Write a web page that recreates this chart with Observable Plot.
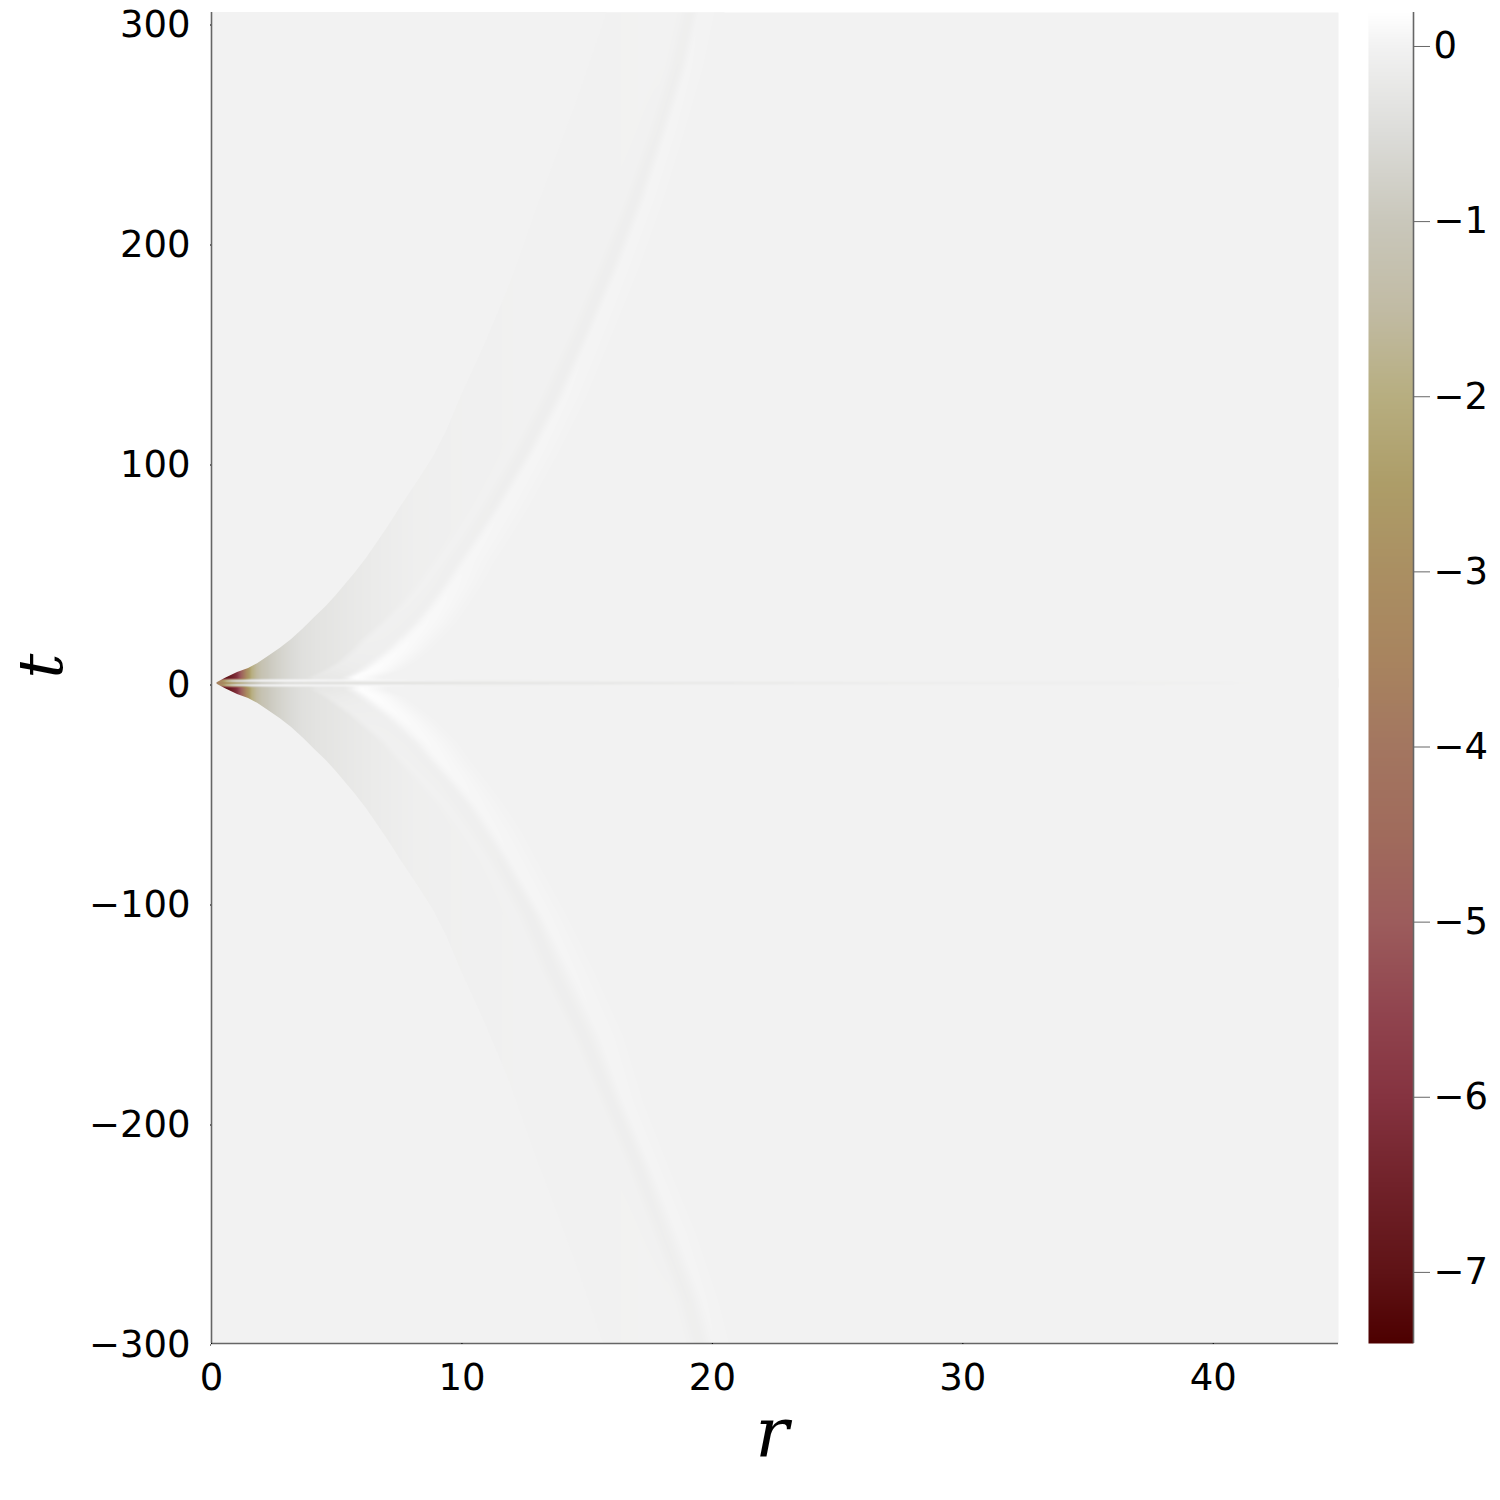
<!DOCTYPE html>
<html>
<head>
<meta charset="utf-8">
<script src="https://cdn.jsdelivr.net/npm/d3@7"></script>
<script src="https://cdn.jsdelivr.net/npm/@observablehq/plot@0.6"></script>
<style>
html,body{margin:0;padding:0;background:#fff;width:1500px;height:1500px;overflow:hidden}
#main,#bar{position:absolute;top:0}
#main{left:0}
#bar{left:1368px}
svg{display:block;background:transparent}
</style>
</head>
<body>
<div id="main"></div>
<div id="bar"></div>
<script>
// Tick labels
const rTicks = [0, 10, 20, 30, 40];
const tTicks = [-300, -200, -100, 0, 100, 200, 300];
const barTicks = [-7, -6, -5, -4, -3, -2, -1, 0];

// Colour map
const colorValues = [-7.406, -7, -6.5, -6, -5.5, -5, -4.5, -4, -3.5, -3, -2.5, -2, -1.5, -1, -0.5, 0, 0.194];
const colorHexes = ["#4d0000", "#5f1316", "#71222a", "#853340", "#91454f", "#9c5c5c", "#a06b5c", "#a37660", "#a8845f", "#aa8f62", "#ad9d68", "#b7ae80", "#c1bba4", "#c9c7bb", "#dcdcd9", "#f2f2f2", "#ffffff"];

// Cone edge: left of it the field is the background value
const edgeT = [0, 0.6, 2.4, 5, 6.8, 9, 12, 16, 20, 25, 30, 35, 40, 45, 50, 57, 65, 72, 80, 90, 103, 115, 130, 155, 182, 220, 265, 305];
const edgeR = [0.2, 0.26, 0.56, 1.04, 1.48, 1.84, 2.24, 2.75, 3.2, 3.68, 4.12, 4.58, 4.98, 5.35, 5.72, 6.2, 6.68, 7.1, 7.54, 8.13, 8.86, 9.4, 9.95, 10.95, 11.94, 13.13, 14.6, 15.8];

// Field inside the cone, mostly a function of r
const baseR = [0.2, 0.4, 0.6, 0.8, 1, 1.2, 1.4, 1.6, 1.8, 2, 2.4, 2.8, 3.2, 3.6, 4.2, 4.9, 5.6, 6.5, 8, 10, 12, 14, 16, 18, 20];
const baseV = [-7.4, -7.2, -7, -6.6, -6.1, -4.8, -3.2, -2, -1.55, -1.2, -0.88, -0.68, -0.53, -0.42, -0.34, -0.28, -0.22, -0.16, -0.08, -0.05, -0.03, -0.02, -0.012, -0.008, -0.005];

// Streak along t = 0 and the two pale slits on either side of it
const streakR = [0.2, 0.5, 1, 1.5, 2, 3, 4, 6, 8, 10, 15, 20, 25, 30, 35, 40, 41, 45];
const streakV = [-3.6, -3.4, -2.5, -1.6, -1, -0.55, -0.48, -0.4, -0.35, -0.3, -0.24, -0.19, -0.14, -0.1, -0.07, -0.045, -0.012, 0];
const slitR = [0.2, 0.4, 0.6, 0.8, 1, 2, 3, 4, 5, 6, 8, 10, 15, 20, 45];
const slitV = [-3.6, -3, -1.2, -0.3, 0.04, 0.15, 0.15, 0.11, 0.06, 0.09, 0.02, -0.02, -0.01, 0, 0];
const streakT = 0.15;
const slitUpperT = 1.4;
const slitLowerT = -0.9;
const fieldUpperT = 2.3;
const fieldLowerT = -1.8;

// Ridge system at each |t|
const rowT = [3, 6, 10, 15, 20, 27, 35, 45, 55, 67, 80, 105, 130, 160, 190, 220, 250, 280, 310];
const innerUpper = [4.2, 4.8, 5.4, 5.9, 6.3, 7.0, 7.7, 8.45, 9.1, 9.85, 10.6, 11.9, 13.0, 14.2, 15.3, 16.4, 17.3, 18.1, 18.7];
const troughUpper = [5.1, 5.6, 6.1, 6.7, 7.2, 7.85, 8.45, 9.1, 9.65, 10.4, 11.15, 12.45, 13.6, 14.8, 15.9, 16.9, 17.8, 18.6, 19.2];
const ridgeUpper = [5.8, 6.4, 6.9, 7.45, 7.9, 8.5, 9.05, 9.65, 10.2, 10.9, 11.65, 12.95, 14.1, 15.25, 16.35, 17.35, 18.2, 19.0, 19.6];
const outerUpper = [7.0, 7.8, 8.4, 8.95, 9.4, 10.0, 10.5, 11.1, 11.6, 12.3, 13.0, 14.2, 15.3, 16.4, 17.5, 18.4, 19.2, 20.0, 20.6];
const innerLower = [4.3, 4.8, 5.3, 5.9, 6.4, 7.1, 7.7, 8.5, 9.3, 10.1, 10.9, 12.1, 13.0, 14.3, 15.4, 16.5, 17.5, 18.5, 19.2];
const troughLower = [5.2, 5.6, 6.1, 6.7, 7.2, 7.9, 8.5, 9.3, 10.0, 10.7, 11.45, 12.7, 13.6, 14.85, 15.95, 17.05, 18.0, 19.0, 19.7];
const ridgeLower = [6.0, 6.45, 6.9, 7.5, 8.0, 8.6, 9.15, 9.9, 10.6, 11.3, 12.0, 13.25, 14.35, 15.6, 16.5, 17.6, 18.65, 19.6, 20.35];
const outerLower = [7.2, 7.9, 8.4, 9.0, 9.5, 10.1, 10.6, 11.3, 12.0, 12.7, 13.3, 14.5, 15.6, 16.8, 17.6, 18.6, 19.7, 20.6, 21.3];
const innerV = [-0.24, -0.16, -0.1, -0.07, -0.05, -0.04, -0.03, -0.025, -0.02, -0.02, -0.02, -0.02, -0.015, -0.015, -0.015, -0.015, -0.015, -0.01, -0.01];
const troughV = [-0.2, -0.13, -0.09, -0.07, -0.06, -0.06, -0.06, -0.06, -0.07, -0.07, -0.08, -0.09, -0.09, -0.09, -0.09, -0.09, -0.08, -0.08, -0.07];
const ridgeV = [0.16, 0.16, 0.14, 0.125, 0.11, 0.1, 0.09, 0.075, 0.06, 0.055, 0.05, 0.045, 0.04, 0.035, 0.03, 0.03, 0.03, 0.025, 0.02];

// Reads the field between the samples above, row by row
function lookup(xs, ys, x) {
  if (x <= xs[0]) return ys[0];
  const n = xs.length - 1;
  if (x >= xs[n]) return ys[n];
  const i = d3.bisectRight(xs, x);
  const f = (x - xs[i - 1]) / (xs[i] - xs[i - 1]);
  return ys[i - 1] + f * (ys[i] - ys[i - 1]);
}
const ease = (a, b, f) => a + (b - a) * f * f * (3 - 2 * f);
let rowKey = null, rowKnots = null;
function knotsAt(t) {
  if (t === rowKey) return rowKnots;
  const up = t >= 0, at = Math.abs(t);
  const inner = lookup(rowT, up ? innerUpper : innerLower, at);
  const trough = lookup(rowT, up ? troughUpper : troughLower, at);
  const ridge = lookup(rowT, up ? ridgeUpper : ridgeLower, at);
  const outer = lookup(rowT, up ? outerUpper : outerLower, at);
  rowKey = t;
  rowKnots = {inner, trough, ridge, outer, iv: lookup(rowT, innerV, at), tv: lookup(rowT, troughV, at), rv: lookup(rowT, ridgeV, at)};
  return rowKnots;
}
function across(r, t) {
  const k = knotsAt(t);
  const start = k.inner - 0.5;
  if (r < start) return lookup(baseR, baseV, r);
  if (r < k.inner) return ease(lookup(baseR, baseV, start), k.iv, (r - start) / 0.5);
  if (r < k.trough) return ease(k.iv, k.tv, (r - k.inner) / (k.trough - k.inner));
  if (r < k.ridge) return ease(k.tv, k.rv, (r - k.trough) / (k.ridge - k.trough));
  if (r < k.outer) return ease(k.rv, 0, (r - k.ridge) / (k.outer - k.ridge));
  return NaN; // background: the frame's own fill shows through
}
function field(r, t) {
  if (t >= fieldUpperT || t <= fieldLowerT) return across(r, t);
  const above = v => Number.isNaN(v) ? 0 : v;
  if (t >= slitUpperT) return lookup([slitUpperT, fieldUpperT], [lookup(slitR, slitV, r), above(across(r, fieldUpperT))], t);
  if (t <= slitLowerT) return lookup([fieldLowerT, slitLowerT], [above(across(r, fieldLowerT)), lookup(slitR, slitV, r)], t);
  return lookup([slitLowerT, streakT, slitUpperT], [lookup(slitR, slitV, r), lookup(streakR, streakV, r), lookup(slitR, slitV, r)], t);
}

const edgeRows = edgeT.map((t, i) => ({t, r: edgeR[i]}));
const minusFormat = d => d < 0 ? "\u2212" + (-d) : String(d);
const colorScale = {type: "linear", domain: colorValues, range: colorHexes, clamp: true};
const axisColor = "#666666";
const font = "DejaVu Sans";
const background = "#f2f2f2";

const main = Plot.plot({
  width: 1500,
  height: 1500,
  marginLeft: 211,
  marginRight: 162,
  marginTop: 12,
  marginBottom: 157,
  style: {background: "transparent"},
  x: {domain: [0, 45], axis: null},
  y: {domain: [-300, 305], axis: null},
  color: colorScale,
  marks: [
    Plot.frame({fill: background, stroke: null}),
    Plot.raster({fill: field, pixelSize: 1, x1: 0, x2: 45, y1: -300, y2: 305}),
    Plot.areaX(edgeRows, {y: "t", x1: 0, x2: "r", fill: background, clip: true}),
    Plot.areaX(edgeRows, {y: d => -d.t, x1: 0, x2: "r", fill: background, clip: true}),
    Plot.ruleX([0], {stroke: axisColor, strokeWidth: 1.6}),
    Plot.ruleY([-300], {stroke: axisColor, strokeWidth: 1.6}),
    Plot.axisX({ticks: rTicks, tickFormat: minusFormat, anchor: "bottom", tickSize: 1, tickPadding: 19,
      fontSize: 37, fontFamily: font, label: null, stroke: "#000", color: "#000"}),
    Plot.axisY({ticks: tTicks, tickFormat: minusFormat, anchor: "left", tickSize: 1, tickPadding: 20, dy: 1.5,
      fontSize: 37, fontFamily: font, label: null, stroke: "#000", color: "#000"}),
    Plot.text(["r"], {frameAnchor: "bottom", dx: -3, dy: 112, fontSize: 70, fontFamily: "DejaVu Serif",
      fontStyle: "italic", fill: "#000"}),
    Plot.text(["t"], {frameAnchor: "left", dx: -169, dy: -12, rotate: -90, fontSize: 62, fontFamily: "DejaVu Serif",
      fontStyle: "italic", fill: "#000", textAnchor: "middle"})
  ]
});
document.getElementById("main").appendChild(main);

const bar = Plot.plot({
  width: 132,
  height: 1500,
  marginLeft: 0,
  marginRight: 87,
  marginTop: 12,
  marginBottom: 157,
  style: {background: "transparent"},
  x: {domain: [0, 1], axis: null},
  y: {domain: [-7.406, 0.194], axis: null},
  color: colorScale,
  marks: [
    Plot.raster({fill: (x, y) => y, pixelSize: 1, x1: 0, x2: 1, y1: -7.406, y2: 0.194}),
    Plot.ruleX([1], {stroke: axisColor, strokeWidth: 1.6}),
    Plot.axisY({ticks: barTicks, tickFormat: minusFormat, anchor: "right", tickSize: 16, tickPadding: 4,
      fontSize: 37, fontFamily: font, label: null, stroke: axisColor, color: "#000"})
  ]
});
document.getElementById("bar").appendChild(bar);
</script>
</body>
</html>
